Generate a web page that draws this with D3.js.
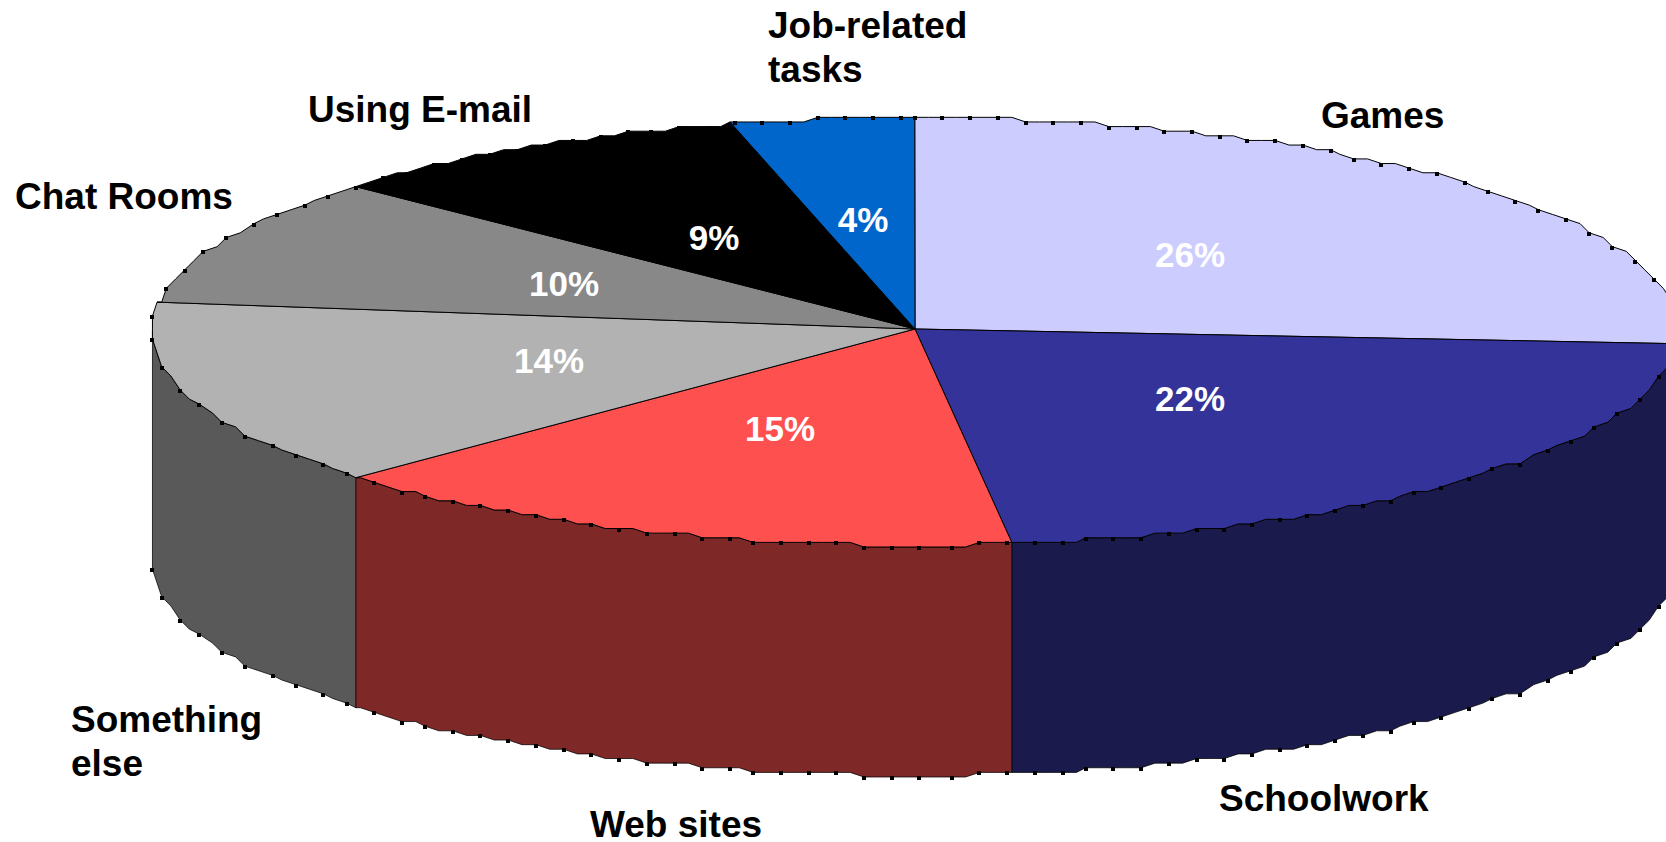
<!DOCTYPE html>
<html><head><meta charset="utf-8">
<style>html,body{margin:0;padding:0;background:#fff;overflow:hidden}svg{display:block}text{font-family:"Liberation Sans",Arial,sans-serif;font-weight:bold}</style>
<script src="https://cdn.jsdelivr.net/npm/d3@7/dist/d3.min.js"></script>
</head><body><svg id="c" width="1666" height="842"></svg>
<script>
const categories=["Games","Schoolwork","Web sites","Something else","Chat Rooms","Using E-mail","Job-related tasks"];
const values=[26.05,21.96,15.12,13.97,9.74,9.25,3.91];
const topColors=["#ccccff","#333399","#ff5050","#b2b2b2","#888888","#000000","#0066cc"];
const wallColors=["#66667f","#1a1a4c","#7f2828","#595959","#444444","#000000","#003366"];
const nameLabelLines=[["Games"],["Schoolwork"],["Web sites"],["Something","else"],["Chat Rooms"],["Using E-mail"],["Job-related","tasks"]];
const nameLabelX=[1321,1219,590,71,15,308,768];
const nameLabelY=[128,811,837,732,209,122,38];
const pctLabelX=[1190,1190,780,549,564,714,863];
const pctLabelY=[267,411,441,373,296,250,232];

const W=1666,H=842,cx=915,cy=329,rimCy=331.35,rx=763,ry=213.85,depth=230,grid=4.62,step=13.5,levelY=547;
const svg=d3.select("#c");
const xs=d3.scaleLinear().domain([-1,1]).range([cx-rx,cx+rx]);
const ys=d3.scaleLinear().domain([-1,1]).range([rimCy-ry,rimCy+ry]);
const arcs=d3.pie().sort(null).value(d=>d).startAngle(0).endAngle(2*Math.PI)(values);
const qx=v=>Math.round(v/grid)*grid;
const qy=v=>levelY-Math.round((levelY-v)/grid)*grid;
const pt=(a,dy=0)=>[qx(xs(Math.sin(a))),qy(ys(-Math.cos(a)))+dy];

// sample angles at an even distance along the rim
const samples=[];
{let s=0,prev=null;for(let i=0;i<=7200;i++){const a=i/7200*2*Math.PI,p=[xs(Math.sin(a)),ys(-Math.cos(a))];
  if(prev){s+=Math.hypot(p[0]-prev[0],p[1]-prev[1]);}prev=p;
  if(i===0||s>=step){samples.push(a);s=0;}}}
const between=(a0,a1)=>[a0,...samples.filter(a=>a>a0+1e-3&&a<a1-1e-3),a1];
const line=d3.line();
const F=Math.PI/2,B=3*Math.PI/2;

// side walls
const gw=svg.append("g");
arcs.forEach((d,i)=>{
  const a0=Math.max(d.startAngle,F),a1=Math.min(d.endAngle,B);
  if(a1<=a0)return;
  const as=between(a0,a1);
  const pts=[...as.map(a=>pt(a)),...as.slice().reverse().map(a=>pt(a,depth))];
  gw.append("path").attr("d",line(pts)+"Z").attr("fill",wallColors[i]).attr("stroke","#000").attr("stroke-opacity",.75).attr("stroke-width",1).attr("stroke-linejoin","round");
});
// top slices
const gt=svg.append("g");
arcs.forEach((d,i)=>{
  const as=between(d.startAngle,d.endAngle);
  const pts=[[cx,cy],...as.map(a=>pt(a))];
  gt.append("path").attr("d",line(pts)+"Z").attr("fill",topColors[i]).attr("stroke","#000").attr("stroke-width",1).attr("stroke-linejoin","round");
});
// rim markers
const gm=svg.append("g").attr("fill","#000");
const mark=p=>gm.append("rect").attr("x",Math.round(p[0]-2)).attr("y",Math.round(p[1]-1)).attr("width",4).attr("height",4);
samples.forEach((a,i)=>{
  if(i%2)return;
  mark(pt(a));
  if(a>F&&a<B)mark(pt(a,depth));
});
// percentage labels
svg.append("g").selectAll("text").data(values).join("text")
  .attr("x",(d,i)=>pctLabelX[i]).attr("y",(d,i)=>pctLabelY[i])
  .attr("text-anchor","middle").attr("fill","#fff").attr("font-size",35).text(d=>Math.round(d)+"%");
// name labels
nameLabelLines.forEach((ls,i)=>{
  ls.forEach((t,j)=>svg.append("text").attr("x",nameLabelX[i]).attr("y",nameLabelY[i]+j*44).attr("font-size",37).attr("fill","#000").text(t));
});
</script></body></html>
